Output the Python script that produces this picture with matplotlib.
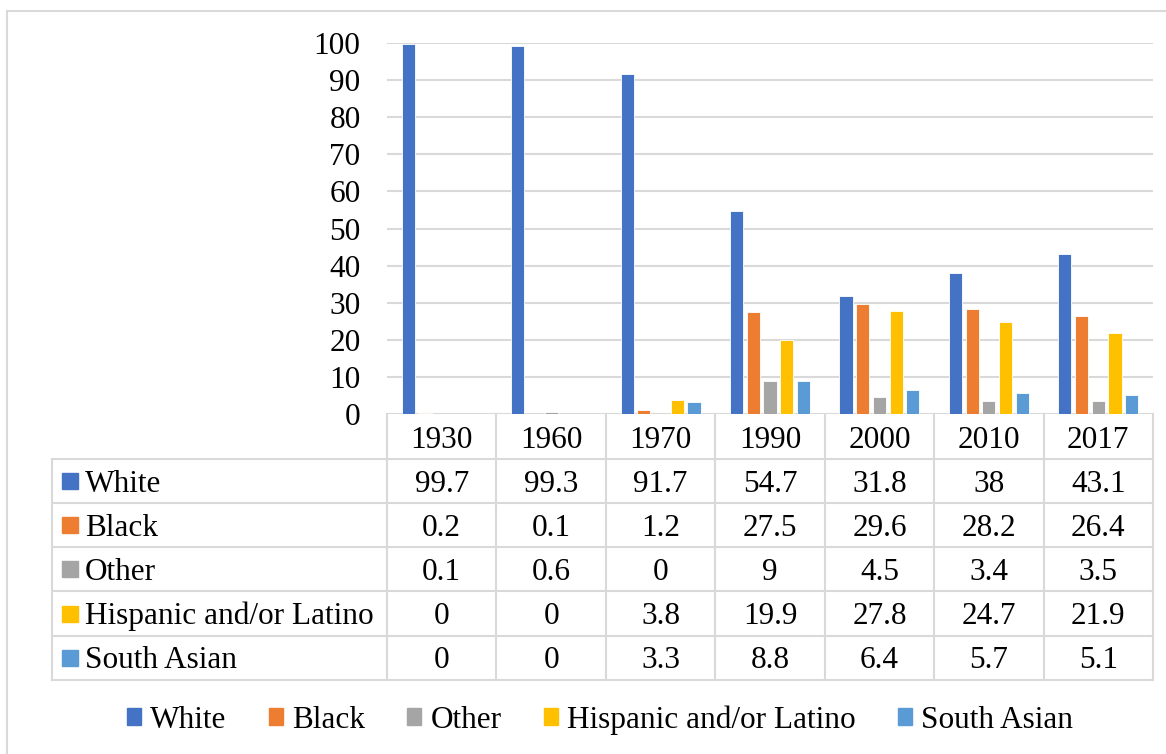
import matplotlib.pyplot as plt
import matplotlib.transforms as mtrans
from matplotlib.lines import Line2D
from matplotlib.patches import Rectangle
import numpy as np

plt.rcParams['font.family'] = ['Liberation Serif', 'DejaVu Serif']

years = ['1930', '1960', '1970', '1990', '2000', '2010', '2017']
white = [99.7, 99.3, 91.7, 54.7, 31.8, 38, 43.1]
black = [0.2, 0.1, 1.2, 27.5, 29.6, 28.2, 26.4]
other = [0.1, 0.6, 0, 9, 4.5, 3.4, 3.5]
hispanic = [0, 0, 3.8, 19.9, 27.8, 24.7, 21.9]
south_asian = [0, 0, 3.3, 8.8, 6.4, 5.7, 5.1]
names = ['White', 'Black', 'Other', 'Hispanic and/or Latino', 'South Asian']
colors = ['#4472C4', '#ED7D31', '#A5A5A5', '#FFC000', '#5B9BD5']
series = [white, black, other, hispanic, south_asian]

W, H = 1166, 754
fs = 22.5
grid_c = '#D9D9D9'
half_cap = 10.5  # px, to centre cap height on the row

fig = plt.figure(figsize=(W / 100, H / 100), dpi=100)

def fx(px):
    return px / W

def fy(py):
    return 1 - py / H

# outer chart border
fig.patches.append(Rectangle((fx(7), fy(760)), fx(1170) - fx(7), fy(11) - fy(760),
                             transform=fig.transFigure, fill=False, ec=grid_c, lw=1.5))

ax = fig.add_axes([fx(387), fy(414), fx(1153) - fx(387), fy(43) - fy(414)])
x = np.arange(len(years))
step = 0.153
bw = 0.12
for k, (vals, c) in enumerate(zip(series, colors)):
    ax.bar(x + (k - 2) * step, vals, bw, color=c, edgecolor='white', lw=0.6, zorder=3)
ax.set_xlim(-0.5, 6.5)
ax.set_ylim(0, 100)
ax.set_yticks(range(0, 101, 10))
ax.yaxis.grid(True, color=grid_c, lw=1.5)
ax.set_axisbelow(True)
for s in ax.spines.values():
    s.set_visible(False)
ax.set_xticks([])
ax.tick_params(axis='y', length=0, pad=19, labelsize=fs)

# data table below the plot
tr = mtrans.blended_transform_factory(ax.transData, fig.transFigure)
rows_y = [459, 503, 547, 591, 636, 680]
for i in range(len(years) + 1):
    fig.add_artist(Line2D([i - 0.5, i - 0.5], [fy(414), fy(680)], transform=tr, color=grid_c, lw=1.5))
fig.add_artist(Line2D([fx(52), fx(52)], [fy(459), fy(680)], transform=fig.transFigure, color=grid_c, lw=1.5))
for yy in rows_y:
    fig.add_artist(Line2D([fx(52), fx(1153)], [fy(yy), fy(yy)], transform=fig.transFigure, color=grid_c, lw=1.5))

for i, yr in enumerate(years):
    fig.text(i, fy(437 + half_cap), yr, transform=tr, ha='center', va='baseline', fontsize=fs)

for r, (name, vals, c) in enumerate(zip(names, series, colors)):
    yc = (rows_y[r] + rows_y[r + 1]) / 2
    fig.patches.append(Rectangle((fx(62), fy(yc + 8)), fx(16), fy(0) - fy(16),
                                 transform=fig.transFigure, color=c))
    fig.text(fx(85), fy(yc + half_cap), name, ha='left', va='baseline', fontsize=fs)
    for i, v in enumerate(vals):
        fig.text(i, fy(yc + half_cap), f'{v:g}', transform=tr, ha='center', va='baseline', fontsize=fs)

handles = [Rectangle((0, 0), 1, 1, color=c) for c in colors]
fig.legend(handles, names, loc='center', bbox_to_anchor=(fx(600), fy(720)), ncol=5,
           frameon=False, fontsize=fs, handlelength=0.45, handleheight=0.45,
           handletextpad=0.29, columnspacing=1.36)

fig.savefig('out.png', dpi=100)
